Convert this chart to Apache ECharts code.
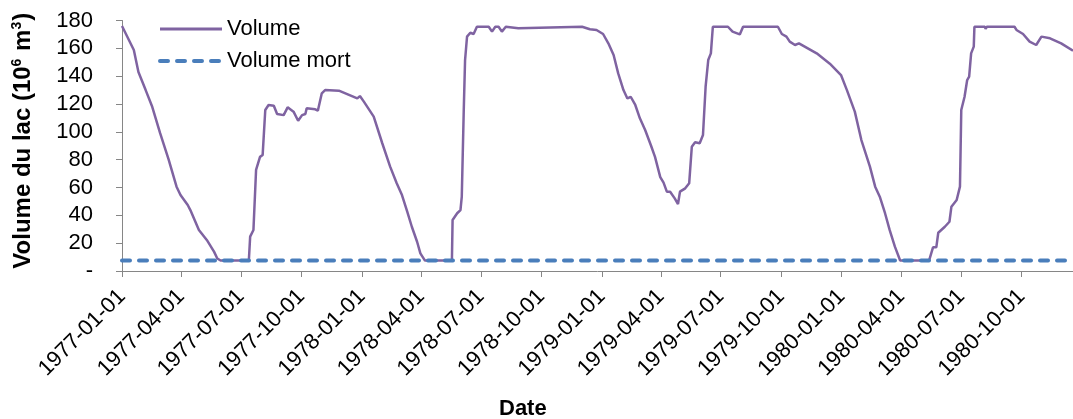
<!DOCTYPE html>
<html>
<head>
    <meta charset="utf-8"/>
    <title>Volume du lac</title>
    <script src="https://cdn.jsdelivr.net/npm/echarts@6.0.0/dist/echarts.min.js"></script>
    <style>
        html, body { margin: 0; padding: 0; background: #fff; }
        #chart { width: 1073px; height: 419px; }
    </style>
</head>
<body>
<div id="chart"></div>
<script>
    // volume du lac (10^6 m3)
    var volumeDates = [
        '1977-01-01', '1977-01-19', '1977-01-26', '1977-02-06', '1977-02-16', '1977-02-28', '1977-03-13', '1977-03-25',
        '1977-03-31', '1977-04-11', '1977-04-15', '1977-04-28', '1977-05-10', '1977-05-21', '1977-05-26', '1977-05-31',
        '1977-07-13', '1977-07-15', '1977-07-20', '1977-07-24', '1977-07-30', '1977-08-03', '1977-08-07', '1977-08-12',
        '1977-08-20', '1977-08-25', '1977-09-04', '1977-09-10', '1977-09-19', '1977-09-26', '1977-10-02', '1977-10-07',
        '1977-10-09', '1977-10-22', '1977-10-26', '1977-11-01', '1977-11-06', '1977-11-27', '1977-12-25', '1977-12-29',
        '1978-01-04', '1978-01-19', '1978-02-01', '1978-02-13', '1978-02-23', '1978-03-03', '1978-03-11', '1978-03-18',
        '1978-03-26', '1978-03-31', '1978-04-07', '1978-05-18', '1978-05-19', '1978-05-26', '1978-05-31', '1978-06-02',
        '1978-06-05', '1978-06-07', '1978-06-10', '1978-06-15', '1978-06-20', '1978-06-25', '1978-07-13', '1978-07-18',
        '1978-07-23', '1978-07-28', '1978-08-02', '1978-08-08', '1978-08-27', '1978-08-30', '1978-12-02', '1978-12-14',
        '1978-12-24', '1979-01-03', '1979-01-11', '1979-01-19', '1979-01-26', '1979-02-03', '1979-02-09', '1979-02-14',
        '1979-02-21', '1979-02-28', '1979-03-08', '1979-03-17', '1979-03-23', '1979-03-31', '1979-04-05', '1979-04-10',
        '1979-04-15', '1979-04-22', '1979-04-27', '1979-04-30', '1979-05-08', '1979-05-14', '1979-05-18', '1979-05-23',
        '1979-05-30', '1979-06-04', '1979-06-08', '1979-06-12', '1979-06-16', '1979-06-19', '1979-07-05', '1979-07-08',
        '1979-07-12', '1979-07-19', '1979-07-30', '1979-08-04', '1979-09-26', '1979-10-02', '1979-10-09', '1979-10-14',
        '1979-10-22', '1979-10-28', '1979-11-24', '1979-12-14', '1979-12-31', '1980-01-09', '1980-01-21', '1980-01-31',
        '1980-02-13', '1980-02-21', '1980-02-28', '1980-03-07', '1980-03-14', '1980-03-22', '1980-03-30', '1980-05-13',
        '1980-05-19', '1980-05-24', '1980-05-27', '1980-05-30', '1980-06-06', '1980-06-13', '1980-06-16', '1980-06-24',
        '1980-06-29', '1980-07-01', '1980-07-06', '1980-07-10', '1980-07-13', '1980-07-16', '1980-07-20', '1980-07-21',
        '1980-08-06', '1980-08-07', '1980-08-09', '1980-09-20', '1980-09-23', '1980-10-03', '1980-10-13', '1980-10-23',
        '1980-10-31', '1980-11-13', '1980-11-30', '1980-12-18'
    ];
    var volumeValues = [
        176.0, 158.8, 143.0, 130.0, 118.0, 99.0, 80.0, 60.6,
        54.6, 47.4, 43.8, 29.5, 22.3, 13.9, 9.0, 7.5,
        7.5, 24.7, 29.5, 72.6, 82.0, 83.3, 115.7, 119.3,
        118.8, 112.8, 112.0, 117.6, 114.5, 108.0, 112.0, 112.8,
        116.9, 116.2, 115.2, 127.7, 130.0, 129.6, 124.0, 125.7,
        121.7, 110.9, 91.8, 75.0, 63.0, 54.6, 42.6, 31.8,
        21.0, 12.7, 7.5, 7.5, 36.6, 41.5, 43.8, 53.4,
        115.7, 151.6, 168.4, 171.2, 170.3, 175.5, 175.5, 172.0,
        175.5, 175.5, 172.0, 175.5, 174.5, 175.5, 175.5, 173.7,
        173.2, 170.3, 163.6, 155.2, 142.0, 130.0, 124.0, 125.2,
        119.3, 109.7, 101.3, 90.0, 82.0, 67.5, 63.5, 57.0,
        57.0, 52.2, 48.1, 57.0, 59.4, 63.0, 89.3, 92.5,
        91.8, 97.7, 132.4, 151.6, 156.4, 175.5, 175.5, 174.5,
        175.5, 172.0, 170.0, 175.5, 175.5, 170.3, 168.4, 164.8,
        162.4, 163.6, 156.4, 149.0, 140.8, 130.0, 114.5, 94.1,
        75.0, 60.6, 53.4, 41.5, 29.5, 17.5, 7.5, 7.5,
        17.0, 17.0, 27.5, 26.6, 31.8, 35.4, 46.2, 51.0,
        60.6, 115.7, 125.2, 137.2, 139.6, 156.4, 161.2, 175.5,
        175.5, 174.0, 175.5, 175.5, 173.2, 170.3, 164.8, 162.4,
        168.4, 167.2, 163.6, 158.3
    ];

    // volume mort (constant)
    var mortDates = ['1977-01-01', '1980-12-18'];
    var mortValues = [7.5, 7.5];

    // graduations de l'axe des dates (tous les trimestres)
    var tickDates = [
        '1977-01-01', '1977-04-01', '1977-07-01', '1977-10-01',
        '1978-01-01', '1978-04-01', '1978-07-01', '1978-10-01',
        '1979-01-01', '1979-04-01', '1979-07-01', '1979-10-01',
        '1980-01-01', '1980-04-01', '1980-07-01', '1980-10-01'
    ];
    var yTicks = [0, 20, 40, 60, 80, 100, 120, 140, 160, 180];

    function toTime(s) {
        var p = s.split('-');
        return new Date(+p[0], +p[1] - 1, +p[2]).getTime();
    }
    function pad(n) {
        return n < 10 ? '0' + n : '' + n;
    }
    function pairs(dates, values) {
        var out = [];
        for (var i = 0; i < dates.length; i++) {
            out.push([toTime(dates[i]), values[i]]);
        }
        return out;
    }

    var tickTimes = tickDates.map(toTime);
    var font = 'Liberation Sans, Arial, sans-serif';
    var axisGray = '#868686';

    var myChart = echarts.init(document.getElementById('chart'));
    var option = {
        animation: false,
        title: {
            text: 'Date',
            left: 499,
            top: 398,
            padding: 0,
            textStyle: {fontFamily: font, fontSize: 22, fontWeight: 'bold', color: '#000'}
        },
        legend: {
            orient: 'vertical',
            left: 158,
            top: 18,
            padding: 0,
            itemWidth: 62,
            itemHeight: 22,
            itemGap: 10,
            itemStyle: {opacity: 0},
            textStyle: {fontFamily: font, fontSize: 22, color: '#000', lineHeight: 22},
            data: [
                {name: 'Volume', lineStyle: {width: 3}},
                {name: 'Volume mort', lineStyle: {width: 4}}
            ]
        },
        grid: {left: 122, right: 0, top: 20.5, bottom: 148},
        // axe des dates en millisecondes, graduations posées à la main
        xAxis: {
            type: 'value',
            min: toTime('1977-01-01'),
            max: toTime('1980-12-18'),
            axisLine: {show: true, lineStyle: {color: axisGray, width: 1}},
            axisTick: {show: true, length: 6, customValues: tickTimes, lineStyle: {color: axisGray}},
            splitLine: {show: false},
            axisLabel: {
                customValues: tickTimes,
                rotate: 45,
                margin: 22,
                fontFamily: font,
                fontSize: 22,
                color: '#000',
                formatter: function (v) {
                    var d = new Date(v);
                    return d.getFullYear() + '-' + pad(d.getMonth() + 1) + '-' + pad(d.getDate());
                }
            }
        },
        yAxis: {
            type: 'value',
            min: yTicks[0],
            max: yTicks[yTicks.length - 1],
            interval: 20,
            name: '{a|Volume du lac (10}{s|6}{a| m}{s|3}{a|)}',
            nameLocation: 'middle',
            nameGap: 86,
            nameTextStyle: {
                padding: [0, 0, 0, 10],
                rich: {
                    a: {fontFamily: font, fontSize: 24, fontWeight: 'bold', color: '#000', lineHeight: 26},
                    s: {fontFamily: font, fontSize: 14, fontWeight: 'bold', color: '#000', verticalAlign: 'top', lineHeight: 26, padding: [0, 1, 0, 0]}
                }
            },
            axisLine: {show: true, lineStyle: {color: axisGray, width: 1}},
            axisTick: {show: true, length: 6, lineStyle: {color: axisGray}},
            splitLine: {show: false},
            axisLabel: {
                margin: 29,
                fontFamily: font,
                fontSize: 22,
                color: '#000',
                formatter: function (v) {
                    return v === 0 ? '-' : v;
                }
            }
        },
        series: [{
            name: 'Volume',
            type: 'line',
            symbol: 'none',
            z: 2,
            lineStyle: {color: '#7F63A1', width: 2.5},
            itemStyle: {color: '#7F63A1'},
            data: pairs(volumeDates, volumeValues)
        }, {
            name: 'Volume mort',
            type: 'line',
            symbol: 'none',
            z: 3,
            lineStyle: {color: '#4A7EBB', width: 4, type: [8, 9], cap: 'round'},
            itemStyle: {color: '#4A7EBB'},
            data: pairs(mortDates, mortValues)
        }]
    };
    myChart.setOption(option);
</script>
</body>
</html>
